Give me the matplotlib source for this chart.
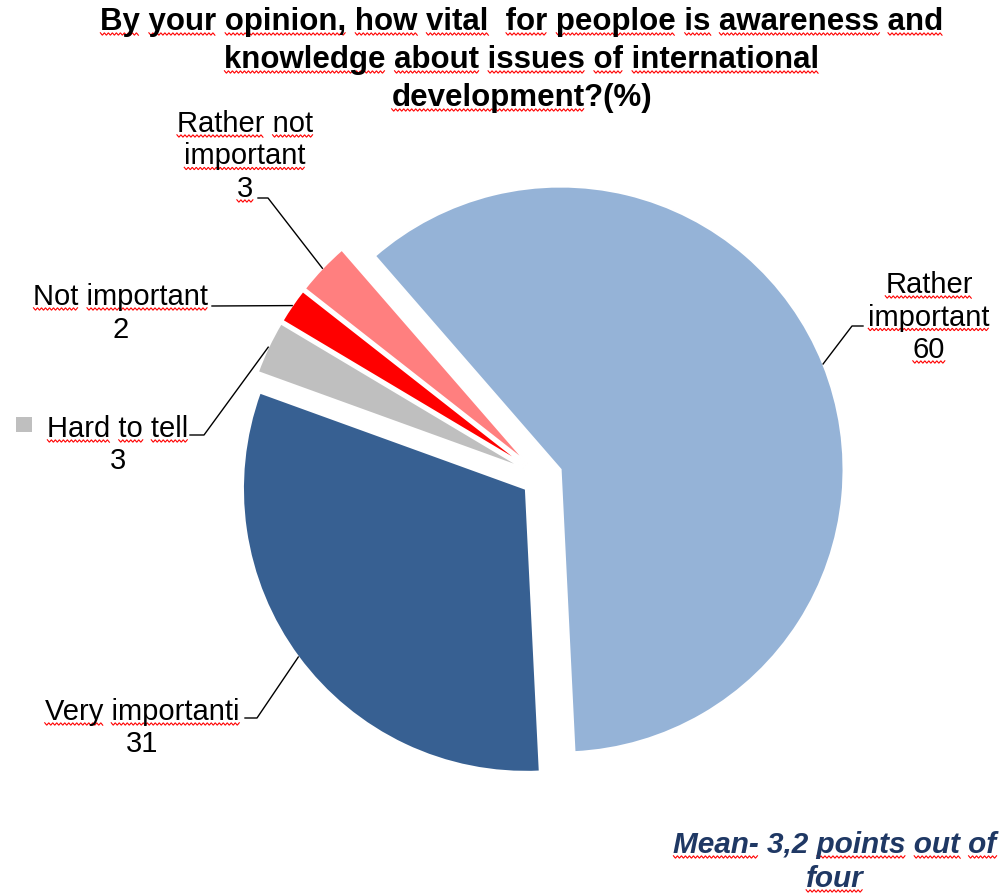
import numpy as np
import matplotlib
matplotlib.use("Agg")
import matplotlib.pyplot as plt

W, H = 1003, 893
FONT = ["Liberation Sans", "DejaVu Sans"]

# slices, clockwise from the upper left
names = ["Rather important", "Very importanti", "Hard to tell", "Not important", "Rather not important"]
values = [60, 31, 3, 2, 3]
colors = ["#95B3D7", "#376092", "#BFBFBF", "#FF0000", "#FF7F7F"]

title_lines = ["By your opinion, how vital  for peoploe is awareness and",
               "knowledge about issues of international",
               "development?(%)"]
mean_lines = ["Mean- 3,2 points out of", "four"]

# label layout in image pixels: centre x, first baseline, line breaks, leader points
label_layout = {
    "Rather important":     dict(x=929, y=293, lines=["Rather", "important"], lead=[(863, 326), (852, 326)], flag_num=True),
    "Very importanti":      dict(x=142, y=720, lines=["Very importanti"], lead=[(245, 718), (257, 718)], flag_num=False),
    "Hard to tell":         dict(x=118, y=437, lines=["Hard to tell"], lead=[(190, 435), (204, 435)], flag_num=False),
    "Not important":        dict(x=121, y=305, lines=["Not important"], lead=[(212, 306)], flag_num=False),
    "Rather not important": dict(x=245, y=132, lines=["Rather not", "important"], lead=[(258, 198), (268, 198)], flag_num=True),
}

fig = plt.figure(figsize=(W / 100, H / 100), dpi=100)
ax = fig.add_axes([0, 0, 1, 1])

# explode is in data units here (1 unit = 1 px)
wedges, _ = ax.pie(values, colors=colors, startangle=131, counterclock=False,
                   explode=[20] * len(values), radius=283, center=(542, H - 477),
                   wedgeprops=dict(edgecolor="white", linewidth=1.5))
ax.set_xlim(0, W)
ax.set_ylim(0, H)
ax.set_aspect("equal")
ax.axis("off")

renderer = fig.canvas.get_renderer()


def text_w(s, fp):
    return renderer.get_text_width_height_descent(s, fp, ismath=False)[0]


def squiggle(x0, x1, y):
    xs = np.arange(x0, x1 + 0.1, 2.0)
    ys = (H - y) + np.where(np.arange(len(xs)) % 2 == 0, 1.2, -1.2)
    ax.plot(xs, ys, color="#FF0000", lw=0.8, solid_joinstyle="miter")


def put_line(x, y, s, size=21, weight="normal", style="normal", color="black", flagged=()):
    t = ax.text(x, H - y, s, ha="center", va="baseline", fontsize=size,
                fontweight=weight, fontstyle=style, color=color, family=FONT)
    fp = t.get_fontproperties()
    left = x - text_w(s, fp) / 2
    pos = 0
    for word in flagged:
        i = s.index(word, pos)
        pos = i + len(word)
        end = left + text_w(s[:pos], fp)
        squiggle(end - text_w(word, fp), end, y + 4)
    return t


# title
for i, line in enumerate(title_lines):
    words = line.split()
    if i == 2:
        words = ["development"]
    put_line(522, 30 + i * 38, line, size=22.5, weight="bold", flagged=words)

# data labels with leader lines
step = 32.5
for name, val, wd in zip(names, values, wedges):
    lay = label_layout[name]
    for k, line in enumerate(lay["lines"]):
        put_line(lay["x"], lay["y"] + k * step, line, flagged=line.split())
    nlines = len(lay["lines"])
    put_line(lay["x"], lay["y"] + nlines * step, str(val),
             flagged=[str(val)] if lay["flag_num"] else ())
    mid = np.deg2rad((wd.theta1 + wd.theta2) / 2)
    cx, cy = wd.center
    tip = (cx + wd.r * np.cos(mid), cy + wd.r * np.sin(mid))
    pts = [(px, H - py) for px, py in lay["lead"]] + [tip]
    ax.plot([p[0] for p in pts], [p[1] for p in pts], color="black", lw=1.0)

# legend key for "Hard to tell"
ax.add_patch(plt.Rectangle((16, H - 432), 16, 15, color=colors[2], lw=0))

# mean note
put_line(835, 853, mean_lines[0], size=21.4, weight="bold", style="italic", color="#1F3864",
         flagged=["Mean-", "points", "out", "of"])
put_line(835, 887, mean_lines[1], size=21.4, weight="bold", style="italic", color="#1F3864",
         flagged=["four"])

fig.savefig("out.png", dpi=100)
